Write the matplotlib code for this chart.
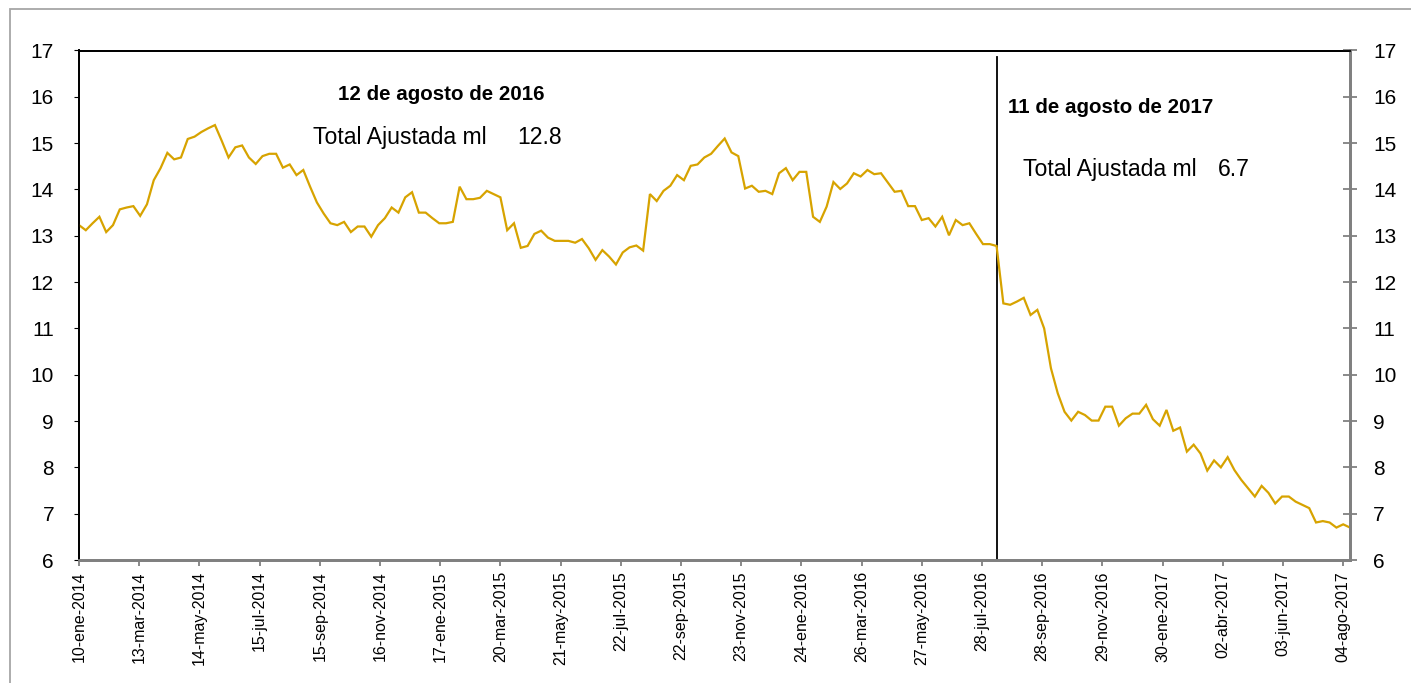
import matplotlib
matplotlib.use("Agg")
import matplotlib.pyplot as plt
from matplotlib.patches import Rectangle
import pandas as pd

plt.rcParams['font.family'] = ['Liberation Sans', 'DejaVu Sans']

# ---- data ----
start_date = "2014-01-10"
values = [
    13.23, 13.12, 13.27, 13.41, 13.08, 13.23, 13.57, 13.61, 13.64, 13.43,
    13.68, 14.20, 14.46, 14.79, 14.65, 14.69, 15.09, 15.14, 15.24, 15.32,
    15.39, 15.05, 14.69, 14.91, 14.95, 14.69, 14.55, 14.72, 14.77, 14.77,
    14.47, 14.54, 14.31, 14.42, 14.06, 13.72, 13.48, 13.27, 13.23, 13.30,
    13.08, 13.20, 13.20, 12.98, 13.23, 13.38, 13.61, 13.50, 13.83, 13.94,
    13.50, 13.50, 13.38, 13.27, 13.27, 13.30, 14.06, 13.79, 13.79, 13.82,
    13.97, 13.90, 13.83, 13.12, 13.27, 12.74, 12.78, 13.04, 13.11, 12.96,
    12.89, 12.89, 12.89, 12.85, 12.93, 12.73, 12.48, 12.69, 12.55, 12.38,
    12.64, 12.75, 12.79, 12.68, 13.90, 13.75, 13.97, 14.08, 14.31, 14.20,
    14.51, 14.54, 14.69, 14.77, 14.94, 15.10, 14.80, 14.72, 14.02, 14.08,
    13.95, 13.97, 13.90, 14.35, 14.46, 14.20, 14.38, 14.38, 13.41, 13.30,
    13.63, 14.16, 14.01, 14.13, 14.35, 14.28, 14.42, 14.33, 14.35, 14.15,
    13.95, 13.97, 13.64, 13.64, 13.34, 13.38, 13.20, 13.41, 13.01, 13.34,
    13.23, 13.27, 13.04, 12.82, 12.82, 12.78, 11.54, 11.51, 11.58, 11.66,
    11.29, 11.40, 11.00, 10.14, 9.60, 9.20, 9.01, 9.20, 9.13, 9.01,
    9.01, 9.31, 9.31, 8.90, 9.06, 9.16, 9.16, 9.35, 9.04, 8.90,
    9.24, 8.79, 8.86, 8.34, 8.49, 8.30, 7.93, 8.15, 8.00, 8.22,
    7.94, 7.73, 7.55, 7.37, 7.60, 7.45, 7.22, 7.37, 7.37, 7.26,
    7.19, 7.12, 6.81, 6.84, 6.81, 6.70, 6.77, 6.70,
]
tick_labels = [
    "10-ene-2014", "13-mar-2014", "14-may-2014", "15-jul-2014", "15-sep-2014",
    "16-nov-2014", "17-ene-2015", "20-mar-2015", "21-may-2015", "22-jul-2015",
    "22-sep-2015", "23-nov-2015", "24-ene-2016", "26-mar-2016", "27-may-2016",
    "28-jul-2016", "28-sep-2016", "29-nov-2016", "30-ene-2017", "02-abr-2017",
    "03-jun-2017", "04-ago-2017",
]
marker_date = "2016-08-12"
note1_title = "12 de agosto de 2016"
note1_label = "Total Ajustada ml"
note1_value = "12.8"
note2_title = "11 de agosto de 2017"
note2_label = "Total Ajustada ml"
note2_value = "6.7"
y_ticks = list(range(6, 18))

dates = pd.date_range(start_date, periods=len(values), freq="7D")
tick_dates = pd.date_range(start_date, periods=len(tick_labels), freq="62D")

W, H = 1411, 683
fig = plt.figure(figsize=(W / 100, H / 100), dpi=100)
ax = fig.add_axes([79 / W, 1 - 560 / H, (1350 - 79) / W, (560 - 50.5) / H])

line_color = "#D7A300"
ax.plot(dates, values, color=line_color, lw=1.6, solid_joinstyle="miter", zorder=3)

# vertical marker line
ax.plot([pd.Timestamp(marker_date)] * 2, [6, 16.85], color="black", lw=1.3, zorder=2)

ax.set_xlim(dates[0], dates[-1])
ax.set_ylim(6, 17)

ax.set_xticks(tick_dates)
ax.set_xticklabels(tick_labels, rotation=90, fontsize=11.5)
ax.set_yticks(y_ticks)
ax.set_yticklabels([str(v) for v in y_ticks], fontsize=15)

ax.tick_params(axis="x", direction="out", length=4, width=1.3, color="#808080", pad=4)
ax.tick_params(axis="y", left=False, labelleft=True, pad=14.5)

# right axis twin
ax2 = ax.twinx()
ax2.set_ylim(6, 17)
ax2.set_yticks(y_ticks)
ax2.set_yticklabels([str(v) for v in y_ticks], fontsize=15)
ax2.tick_params(axis="y", direction="inout", length=10, width=1.3, color="#808080", pad=11.5)

for a in (ax, ax2):
    a.spines["top"].set_color("black")
    a.spines["top"].set_linewidth(1.3)
    a.spines["left"].set_color("black")
    a.spines["left"].set_linewidth(1.3)
    a.spines["bottom"].set_color("#808080")
    a.spines["bottom"].set_linewidth(2)
    a.spines["right"].set_color("#808080")
    a.spines["right"].set_linewidth(2)

def fx(px):
    return px / W

def fy(py):
    return 1 - py / H

fig.text(fx(441), fy(99.5), note1_title, ha="center", va="baseline",
         fontsize=14.8, fontweight="bold")
fig.text(fx(313), fy(144), note1_label, ha="left", va="baseline", fontsize=16.6)
fig.text(fx(517), fy(144), note1_value, ha="left", va="baseline", fontsize=16.6)
fig.text(fx(1008), fy(112.7), note2_title, ha="left", va="baseline",
         fontsize=14.8, fontweight="bold")
fig.text(fx(1023), fy(175.7), note2_label, ha="left", va="baseline", fontsize=16.6)
fig.text(fx(1218), fy(175.7), note2_value, ha="left", va="baseline", fontsize=16.6)

# outer chart border
fig.patches.append(Rectangle((10 / W, -0.05), 1.1, 1 - 9 / H + 0.05,
                             transform=fig.transFigure, fill=False,
                             edgecolor="#A6A6A6", lw=1.3, clip_on=False))

fig.savefig("out.png", dpi=100, facecolor="white")
